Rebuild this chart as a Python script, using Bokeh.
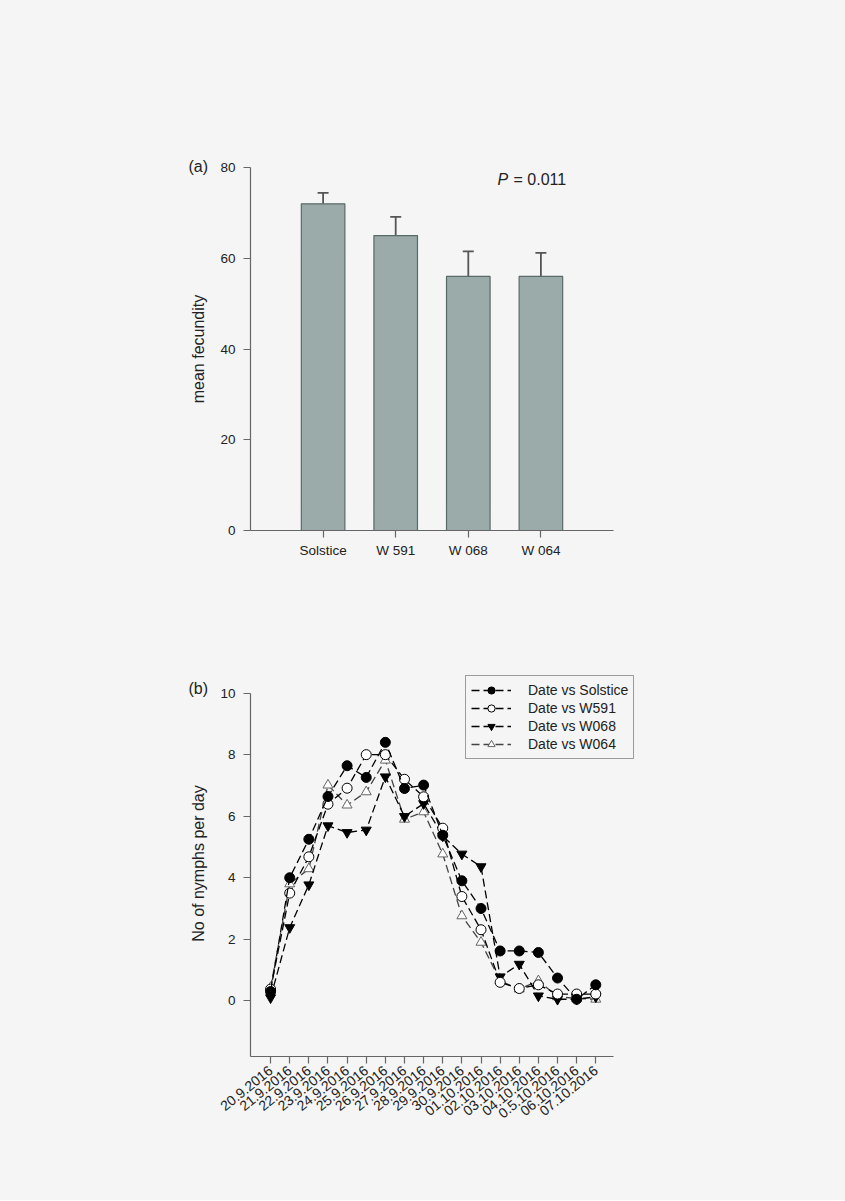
from bokeh.plotting import figure
from bokeh.layouts import column
from bokeh.models import (ColumnDataSource, Whisker, TeeHead, Label, Legend,
                          LegendItem, FixedTicker)
from bokeh.embed import file_html
from bokeh.resources import INLINE

# ---------------- data ----------------
fec_labels = ["Solstice", "W 591", "W 068", "W 064"]
fec_mean = [72.0, 65.0, 56.0, 56.0]
fec_err = [2.4, 4.1, 5.5, 5.2]
fec_ticks = [0, 20, 40, 60, 80]

dates = ["20.9.2016", "21.9.2016", "22.9.2016", "23.9.2016", "24.9.2016",
         "25.9.2016", "26.9.2016", "27.9.2016", "28.9.2016", "29.9.2016",
         "30.9.2016", "01.10.2016", "02.10.2016", "03.10.2016", "04.10.2016",
         "0.5.10.2016", "06.10.2016", "07.10.2016"]
solstice = [0.30, 4.00, 5.25, 6.64, 7.64, 7.26, 8.40, 6.90, 7.01, 5.38,
            3.90, 3.00, 1.62, 1.62, 1.57, 0.74, 0.05, 0.52]
w591 = [0.38, 3.50, 4.68, 6.39, 6.91, 8.00, 8.00, 7.20, 6.63, 5.61,
        3.39, 2.31, 0.60, 0.40, 0.52, 0.22, 0.22, 0.22]
w068 = [0.10, 2.38, 3.77, 5.69, 5.47, 5.55, 7.28, 5.99, 6.41, 5.36,
        4.77, 4.36, 0.78, 1.19, 0.16, 0.05, 0.05, 0.13]
w064 = [0.43, 3.80, 4.29, 7.01, 6.36, 6.79, 7.82, 5.90, 6.14, 4.77,
        2.76, 1.90, 0.65, 0.38, 0.65, 0.13, 0.08, 0.05]
nymph_ticks = [0, 2, 4, 6, 8, 10]

BG = "#f5f5f5"
AX = "#666666"
TXT = "#222222"
FONT = "Liberation Sans"


def style(p, tag, standoff):
    p.background_fill_color = BG
    p.border_fill_color = BG
    p.outline_line_color = None
    p.xgrid.visible = False
    p.ygrid.visible = False
    for ax in (p.xaxis[0], p.yaxis[0]):
        ax.axis_line_color = AX
        ax.axis_line_width = 1.2
        ax.major_tick_line_color = AX
        ax.major_tick_line_width = 1.2
        ax.minor_tick_line_color = None
        ax.major_tick_in = 0
        ax.major_tick_out = 7
        ax.major_label_text_font = FONT
        ax.major_label_text_font_size = "13.5px"
        ax.major_label_text_color = TXT
        ax.axis_label_text_font = FONT
        ax.axis_label_text_font_style = "normal"
        ax.axis_label_text_font_size = "16px"
        ax.axis_label_text_color = TXT
    p.yaxis[0].major_label_standoff = 8
    p.yaxis[0].axis_label_standoff = 10
    # panel tag "(a)" / "(b)" as a left-aligned title level with the top tick
    p.title.text = tag
    p.title.align = "left"
    p.title.offset = -62
    p.title.standoff = standoff
    p.title.text_font = FONT
    p.title.text_font_size = "16px"
    p.title.text_font_style = "normal"
    p.title.text_color = TXT


# ---------------- panel (a) ----------------
xs_a = [i + 1 for i in range(len(fec_labels))]
src_a = ColumnDataSource(dict(x=xs_a, top=fec_mean,
                              upper=[m + e for m, e in zip(fec_mean, fec_err)]))

pa = figure(frame_width=363, frame_height=363, x_range=(0, 5), y_range=(0, 80),
            output_backend="svg", toolbar_location=None,
            min_border_left=250, min_border_right=232,
            min_border_top=167, min_border_bottom=60)
style(pa, "(a)", -14)
pa.vbar(x="x", top="top", bottom=0, width=0.6, source=src_a,
        fill_color="#9aabaa", line_color="#5a6a69", line_width=1.2)
pa.add_layout(Whisker(base="x", upper="upper", lower="top", source=src_a,
                      upper_head=TeeHead(size=11, line_color="#555555", line_width=1.8),
                      lower_head=None, line_color="#555555", line_width=1.8))
pa.xaxis.ticker = FixedTicker(ticks=xs_a)
pa.xaxis.major_label_overrides = {x: l for x, l in zip(xs_a, fec_labels)}
pa.yaxis.ticker = FixedTicker(ticks=fec_ticks)
pa.yaxis.axis_label = "mean fecundity"

p_y = 80 - (179 - 167) / 363 * 80
pa.add_layout(Label(x=497 - 250, y=p_y, x_units="screen", y_units="data",
                    text="P", text_font=FONT, text_font_style="italic",
                    text_font_size="16px", text_color=TXT,
                    text_baseline="middle"))
pa.add_layout(Label(x=513 - 250, y=p_y, x_units="screen", y_units="data",
                    text="= 0.011", text_font=FONT, text_font_size="16px",
                    text_color=TXT, text_baseline="middle"))

# ---------------- panel (b) ----------------
xs_b = list(range(len(dates)))
pb = figure(frame_width=400, frame_height=386, x_range=(-1.05, 19.86),
            y_range=(-1.81, 10.735), output_backend="svg", toolbar_location=None,
            min_border_left=250, min_border_right=195,
            min_border_top=80, min_border_bottom=144)
style(pb, "(b)", -52)
pb.xaxis.bounds = (-1.05, 17.93)
pb.yaxis.bounds = (-1.81, 10)
pb.xaxis.ticker = FixedTicker(ticks=xs_b)
pb.xaxis.major_label_overrides = {x: d for x, d in zip(xs_b, dates)}
pb.xaxis.major_label_orientation = 0.68
pb.xaxis.major_label_text_font_size = "14px"
pb.yaxis.ticker = FixedTicker(ticks=nymph_ticks)
pb.yaxis.axis_label = "No of nymphs per day"

series = [
    ("Date vs Solstice", solstice, "circle", "black", "black", "black"),
    ("Date vs W591", w591, "circle", "white", "black", "black"),
    ("Date vs W068", w068, "inverted_triangle", "black", "black", "black"),
    ("Date vs W064", w064, "triangle", "white", "#666666", "#444444"),
]
items = []
for name, ys, marker, fill, mline, lcol in reversed(series):
    r1 = pb.line(xs_b, ys, line_color=lcol, line_dash="8 4", line_width=1.3)
    r2 = pb.scatter(xs_b, ys, marker=marker, size=10, fill_color=fill,
                    line_color=mline, line_width=1)
    items.insert(0, LegendItem(label=name, renderers=[r1, r2]))

leg = Legend(items=items, location=(215, 297), orientation="vertical",
             label_text_font=FONT, label_text_font_size="14px",
             label_text_color=TXT, glyph_width=40, glyph_height=18,
             label_height=14, spacing=0, padding=5, margin=0,
             label_standoff=17, border_line_color="#444444",
             border_line_width=1.2, background_fill_color=BG,
             background_fill_alpha=1)
pb.add_layout(leg, "center")

layout = column(pa, pb, spacing=0, styles={"background-color": BG})
open("out.html", "w").write(file_html(layout, INLINE))
